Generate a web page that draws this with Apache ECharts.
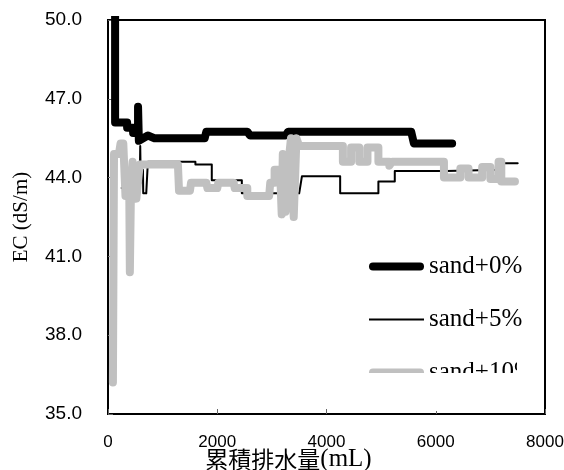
<!DOCTYPE html>
<html>
<head>
<meta charset="utf-8">
<script src="https://cdn.jsdelivr.net/npm/echarts@6/dist/echarts.min.js"></script>
<style>
  html, body { margin: 0; padding: 0; background: #fff; }
  #chart { width: 564px; height: 470px; }
</style>
</head>
<body>
<div id="chart"></div>
<script>
  // 系列名称
  var seriesNames = ['sand+0%', 'sand+5%', 'sand+10%'];

  // 累積排水量(mL) 与 EC (dS/m)
  var sand0 = [
    [130, 51], [130, 46.1], [350, 46.1], [350, 45.9], [460, 45.9], [460, 45.7],
    [550, 45.7], [550, 46.7], [565, 45.4], [730, 45.6], [850, 45.5], [1770, 45.5],
    [1800, 45.75], [2550, 45.75], [2600, 45.6], [3250, 45.6], [3300, 45.75],
    [5550, 45.75], [5600, 45.3], [6300, 45.3]
  ];
  var sand5 = [
    [250, 43.6], [580, 43.6], [590, 45.2], [600, 43.8], [640, 44.3], [645, 43.4],
    [700, 43.4], [730, 44.6], [1600, 44.6], [1600, 44.5], [1900, 44.5], [1900, 43.9],
    [2450, 43.9], [2450, 43.4], [3500, 43.4], [3550, 44.05], [4250, 44.05],
    [4250, 43.4], [4950, 43.4], [4950, 43.85], [5250, 43.85], [5250, 44.25],
    [6200, 44.25], [6200, 44.3], [7200, 44.3], [7230, 44.55], [7500, 44.55]
  ];
  var sand10 = [
    [90, 36.2], [110, 44.9], [200, 44.9], [230, 45.3], [280, 45.3], [320, 43.3],
    [390, 43.3], [400, 40.4], [420, 43.5], [450, 44.6], [520, 43.2], [580, 44.5],
    [1280, 44.5], [1300, 43.5], [1500, 43.5], [1520, 43.8], [1800, 43.8],
    [1820, 43.6], [2000, 43.6], [2020, 43.8], [2300, 43.8], [2320, 43.6],
    [2550, 43.6], [2550, 43.3], [2950, 43.3], [2970, 43.8], [3050, 43.8],
    [3050, 44.3], [3150, 44.3], [3180, 42.6], [3200, 44.9], [3250, 42.7],
    [3300, 44.5], [3350, 45.5], [3400, 42.5], [3450, 45.5], [3500, 45.2],
    [4300, 45.2], [4300, 44.6], [4450, 44.6], [4450, 45.15], [4600, 45.15],
    [4600, 44.6], [4750, 44.6], [4750, 45.15], [4950, 45.15], [4950, 44.6],
    [5150, 44.6], [5150, 44.45], [5200, 44.6], [6150, 44.6], [6150, 44.0],
    [6450, 44.0], [6450, 44.35], [6600, 44.35], [6600, 44.0], [6850, 44.0],
    [6850, 44.4], [7000, 44.4], [7000, 43.95], [7150, 43.95], [7150, 44.6],
    [7200, 44.6], [7200, 43.85], [7450, 43.85]
  ];

  var chart = echarts.init(document.getElementById('chart'));

  // 图例图标：粗线 / 细线
  var thickIcon = 'path://M4,0 L51,0 A4,4 0 0 1 51,8 L4,8 A4,4 0 0 1 4,0 Z';
  var thinIcon = 'path://M0,0 L55,0 L55,2 L0,2 Z';

  function lineSeries(name, data, color, width) {
    return {
      name: name,
      type: 'line',
      data: data,
      symbol: 'none',
      lineStyle: { color: color, width: width, cap: 'round', join: 'round' },
      itemStyle: { color: color },
      animation: false
    };
  }

  chart.setOption({
    backgroundColor: '#fff',
    grid: {
      left: 108, top: 20, right: 19, bottom: 56,
      outerBoundsMode: 'none',
      containLabel: false,
      show: true, borderColor: '#000', borderWidth: 2
    },
    legend: {
      orient: 'vertical',
      left: 364,
      top: 249,
      itemWidth: 55,
      itemHeight: 14,
      itemGap: 28,
      data: [
        { name: seriesNames[0], icon: thickIcon, itemStyle: { color: '#000' } },
        { name: seriesNames[1], icon: thinIcon, itemStyle: { color: '#000' } },
        { name: seriesNames[2], icon: thickIcon, itemStyle: { color: '#c0c0c0' } }
      ],
      textStyle: { fontFamily: 'Liberation Serif', fontSize: 25, color: '#000', lineHeight: 24 }
    },
    xAxis: {
      type: 'value',
      min: 0, max: 8000, interval: 2000,
      name: '{a|累積排水量}{b|(mL)}',
      nameLocation: 'middle',
      nameGap: 33,
      nameMoveOverlap: false,
      nameTextStyle: {
        padding: [0, 76, 0, 0],
        lineHeight: 24,
        rich: {
          a: { fontFamily: 'Noto Sans CJK JP', fontSize: 23, color: '#000', lineHeight: 24 },
          b: { fontFamily: 'Liberation Serif', fontSize: 25, color: '#000', lineHeight: 24 }
        }
      },
      axisLine: { lineStyle: { color: '#000', width: 2 } },
      axisTick: { inside: true, length: 5, lineStyle: { color: '#666' } },
      axisLabel: {
        fontFamily: 'Liberation Sans', fontSize: 17, color: '#000', margin: 20,
        formatter: function (v) { return String(v); }
      },
      splitLine: { show: false }
    },
    yAxis: {
      type: 'value',
      min: 35, max: 50, interval: 3,
      name: 'EC (dS/m)',
      nameLocation: 'middle',
      nameGap: 76,
      nameMoveOverlap: false,
      nameTextStyle: { fontFamily: 'Liberation Serif', fontSize: 21, color: '#000' },
      axisLine: { show: true, lineStyle: { color: '#000', width: 2 } },
      axisTick: { show: true, inside: true, length: 5, lineStyle: { color: '#666' } },
      axisLabel: {
        fontFamily: 'Liberation Sans', fontSize: 19, color: '#000', margin: 26,
        formatter: function (v) { return v.toFixed(1); }
      },
      splitLine: { show: false }
    },
    graphic: [
      // 图例被裁切的部分
      { type: 'rect', z: 100, shape: { x: 358, y: 373, width: 184, height: 38 }, style: { fill: '#fff' } },
      { type: 'rect', z: 100, shape: { x: 517, y: 345, width: 25, height: 30 }, style: { fill: '#fff' } }
    ],
    series: [
      lineSeries(seriesNames[0], sand0, '#000', 8),
      lineSeries(seriesNames[1], sand5, '#000', 2),
      lineSeries(seriesNames[2], sand10, '#c0c0c0', 8)
    ]
  });
</script>
</body>
</html>
